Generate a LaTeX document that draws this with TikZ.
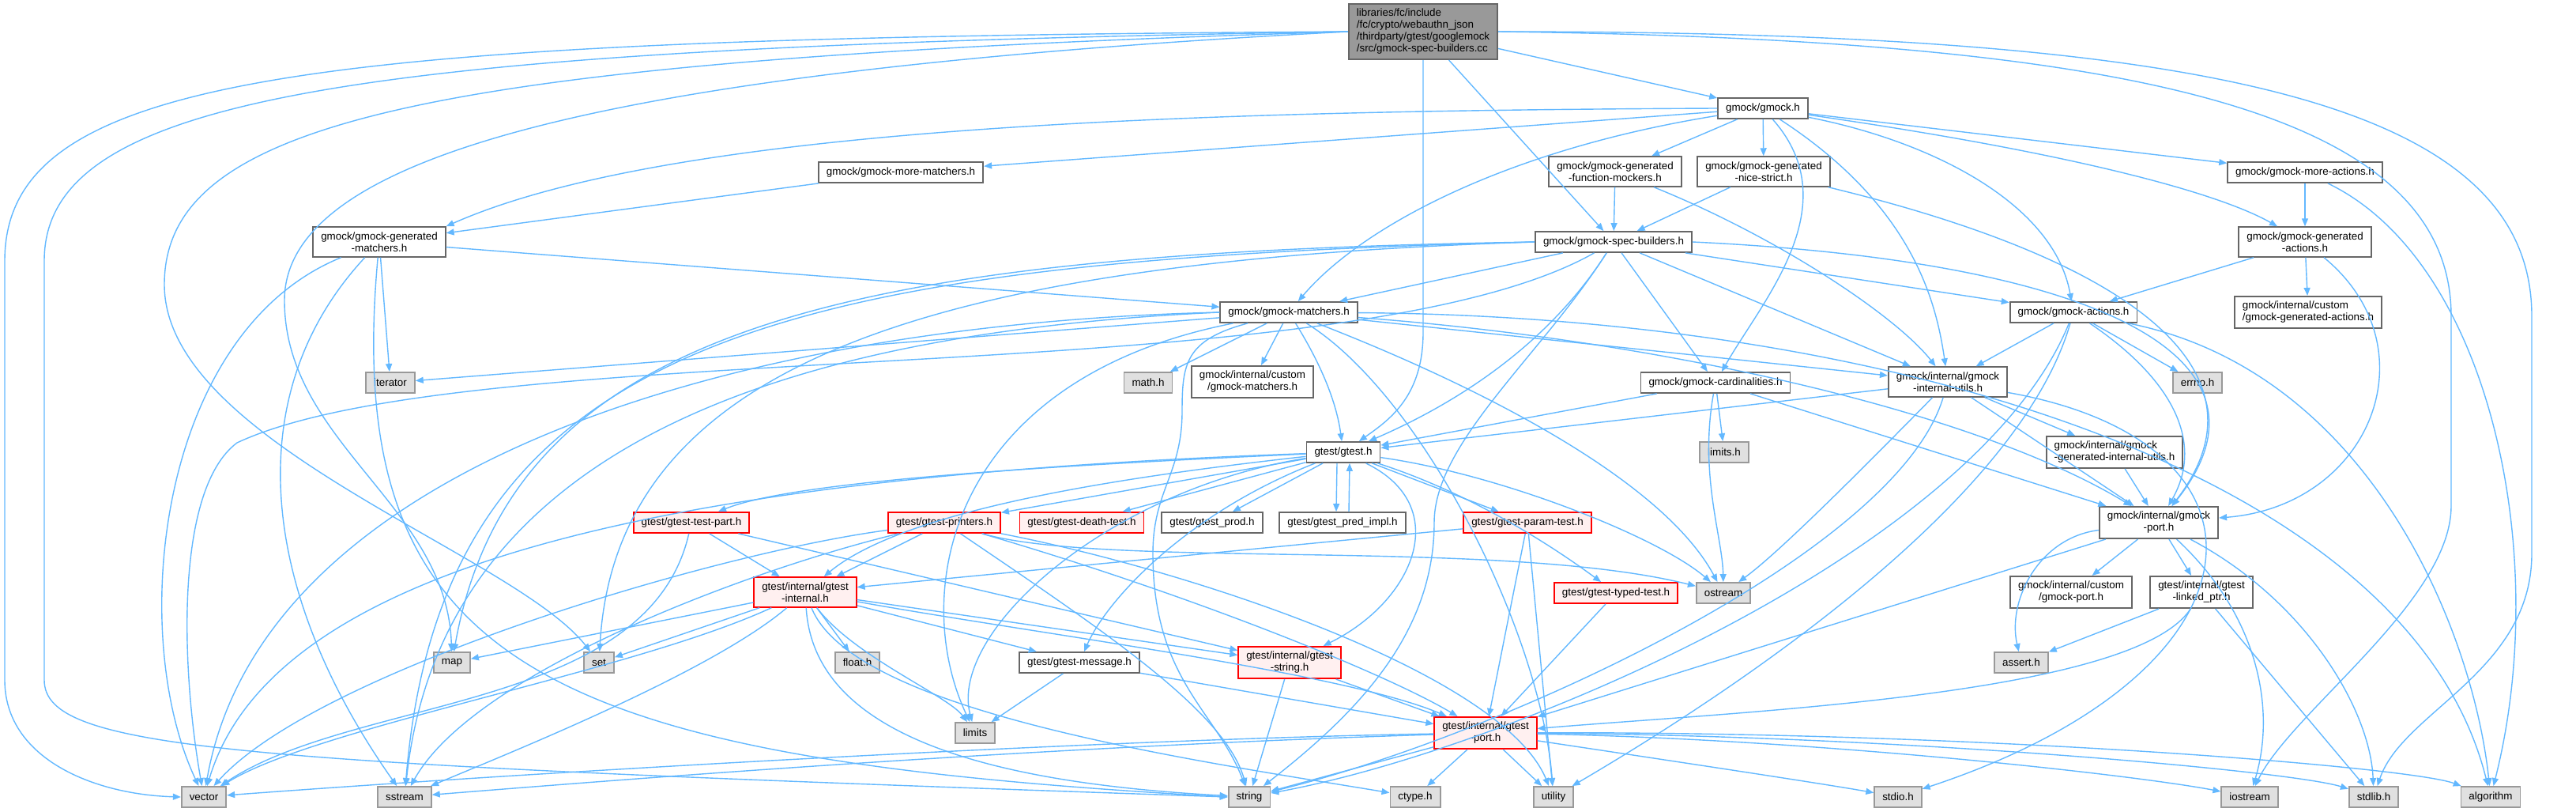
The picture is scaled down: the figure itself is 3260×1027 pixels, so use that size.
\documentclass[tikz,border=0pt]{standalone}
\usepackage{fontspec}
\setmainfont{Liberation Sans}
\usepackage{tikz}
\usetikzlibrary{arrows.meta}

\definecolor{edgeblue}{HTML}{63B8FF}
\definecolor{boxgray}{HTML}{666666}
\definecolor{sysgray}{HTML}{999999}
\definecolor{sysfill}{HTML}{E0E0E0}
\definecolor{redfill}{HTML}{FFF0F0}
\definecolor{rootfill}{HTML}{999999}

\newcommand{\gfont}{\fontsize{6.7}{7.5}\selectfont}

\tikzset{
    file/.style={draw=boxgray, fill=white, line width=0.9pt, inner xsep=5pt, inner ysep=3.2pt,
        minimum height=13pt, font=\gfont, align=center},
    sysfile/.style={file, draw=sysgray, fill=sysfill},
    redfile/.style={file, draw=red, fill=redfill},
    rootfile/.style={file, fill=rootfill, align=left},
    inc/.style={draw=edgeblue, line width=0.7pt, -{Triangle[length=5pt,width=4pt]}}
}

\begin{document}
\begin{tikzpicture}[x=0.5pt,y=-0.5pt]
        \useasboundingbox (0,0) rectangle (3260,1027);

        \node[rootfile] (root) at (1801,40) {libraries/fc/include\\/fc/crypto/webauthn\_json\\/thirdparty/gtest/googlemock\\/src/gmock-spec-builders.cc};
        \node[file] (gmock) at (2231,137) {gmock/gmock.h};
        \node[file] (genmatch) at (480,306) {gmock/gmock-generated\\-matchers.h};
        \node[file] (morematch) at (1140,218) {gmock/gmock-more-matchers.h};
        \node[file] (funcmock) at (2044,217) {gmock/gmock-generated\\-function-mockers.h};
        \node[file] (nicestrict) at (2232,217) {gmock/gmock-generated\\-nice-strict.h};
        \node[file] (moreact) at (2917,218) {gmock/gmock-more-actions.h};
        \node[file] (specb) at (2042,306) {gmock/gmock-spec-builders.h};
        \node[file] (genact) at (2917,306) {gmock/gmock-generated\\-actions.h};
        \node[sysfile] (iterator) at (494,484) {iterator};
        \node[file] (matchers) at (1631,395) {gmock/gmock-matchers.h};
        \node[sysfile] (mathh) at (1453,484) {math.h};
        \node[file] (custmatch) at (1585,483) {gmock/internal/custom\\/gmock-matchers.h};
        \node[file] (card) at (2171,484) {gmock/gmock-cardinalities.h};
        \node[file] (actions) at (2624,395) {gmock/gmock-actions.h};
        \node[file, align=left] (custgenact) at (2921,395) {gmock/internal/custom\\/gmock-generated-actions.h};
        \node[file] (iutils) at (2465,483) {gmock/internal/gmock\\-internal-utils.h};
        \node[sysfile] (errnoh) at (2781,484) {errno.h};
        \node[file] (gtest) at (1700,572) {gtest/gtest.h};
        \node[sysfile] (limitsh) at (2182,572) {limits.h};
        \node[file, align=left] (geniutils) at (2676,572) {gmock/internal/gmock\\-generated-internal-utils.h};
        \node[file] (gmockport) at (2732,661) {gmock/internal/gmock\\-port.h};
        \node[redfile] (testpart) at (875,661) {gtest/gtest-test-part.h};
        \node[redfile] (printers) at (1195,661) {gtest/gtest-printers.h};
        \node[redfile] (death) at (1369,661) {gtest/gtest-death-test.h};
        \node[file] (prod) at (1534,661) {gtest/gtest\_prod.h};
        \node[file] (predimpl) at (1699,661) {gtest/gtest\_pred\_impl.h};
        \node[redfile] (param) at (1933,661) {gtest/gtest-param-test.h};
        \node[redfile] (ginternal) at (1019,749) {gtest/internal/gtest\\-internal.h};
        \node[redfile] (typed) at (2045,750) {gtest/gtest-typed-test.h};
        \node[sysfile] (ostream) at (2181,750) {ostream};
        \node[file] (custport) at (2621,749) {gmock/internal/custom\\/gmock-port.h};
        \node[file] (linked) at (2786,749) {gtest/internal/gtest\\-linked\_ptr.h};
        \node[sysfile] (map) at (572,838) {map};
        \node[sysfile] (set) at (758,838) {set};
        \node[sysfile] (floath) at (1085,838) {float.h};
        \node[file] (message) at (1366,838) {gtest/gtest-message.h};
        \node[redfile] (gstring) at (1632,838) {gtest/internal/gtest\\-string.h};
        \node[sysfile] (asserth) at (2558,838) {assert.h};
        \node[sysfile] (limits) at (1234,927) {limits};
        \node[redfile] (gport) at (1880,927) {gtest/internal/gtest\\-port.h};
        \node[sysfile] (vector) at (258,1008) {vector};
        \node[sysfile] (sstream) at (512,1008) {sstream};
        \node[sysfile] (string) at (1581,1008) {string};
        \node[sysfile] (ctypeh) at (1791,1008) {ctype.h};
        \node[sysfile] (utility) at (1966,1008) {utility};
        \node[sysfile] (stdioh) at (2402,1008) {stdio.h};
        \node[sysfile] (iostream) at (2847,1008) {iostream};
        \node[sysfile] (stdlibh) at (3004,1008) {stdlib.h};
        \node[sysfile] (algorithm) at (3152,1008) {algorithm};

        \draw[inc] (root) -- (specb);
        \draw[inc] (root) -- (gmock);
        \draw[inc] (root.south) -- (1801,420) .. controls (1801,500) and (1760,530) .. (gtest);
        \draw[inc] (root.west) .. controls (400,48) and (6,90) .. (6,330) -- (6,860) .. controls (6,960) and (120,1005) .. (vector.west);
        \draw[inc] (root.west) .. controls (450,60) and (56,120) .. (56,330) -- (56,860) .. controls (56,950) and (300,965) .. (string.west);
        \draw[inc] (root.west) .. controls (550,75) and (208,150) .. (208,360) .. controls (208,560) and (650,700) .. (set);
        \draw[inc] (root.west) .. controls (750,90) and (360,200) .. (360,380) .. controls (360,560) and (566,640) .. (map);
        \draw[inc] (root.east) .. controls (2700,50) and (3102,140) .. (3102,400) -- (3102,640) .. controls (3102,760) and (2900,900) .. (iostream);
        \draw[inc] (root.east) .. controls (2800,40) and (3204,130) .. (3204,400) -- (3204,700) .. controls (3204,850) and (3040,900) .. (stdlibh);

        \draw[inc] (gmock.west) .. controls (1500,140) and (850,160) .. (genmatch.north east);
        \draw[inc] (gmock) -- (morematch);
        \draw[inc] (gmock) .. controls (1900,190) and (1720,290) .. (matchers);
        \draw[inc] (gmock) -- (funcmock);
        \draw[inc] (gmock) -- (nicestrict);
        \draw[inc] (gmock) .. controls (2340,260) and (2230,380) .. (card);
        \draw[inc] (gmock) .. controls (2420,260) and (2450,380) .. (iutils);
        \draw[inc] (gmock) .. controls (2450,180) and (2600,260) .. (actions);
        \draw[inc] (gmock) .. controls (2600,190) and (2800,240) .. (genact);
        \draw[inc] (gmock) -- (moreact);

        \draw[inc] (morematch) -- (genmatch);
        \draw[inc] (funcmock) -- (specb);
        \draw[inc] (funcmock) .. controls (2250,300) and (2400,400) .. (iutils);
        \draw[inc] (nicestrict) -- (specb);
        \draw[inc] (nicestrict) .. controls (2700,330) and (2880,470) .. (gmockport);
        \draw[inc] (moreact) -- (genact);
        \draw[inc] (moreact) .. controls (3150,330) and (3230,700) .. (algorithm);
        \draw[inc] (genact) -- (actions);
        \draw[inc] (genact) -- (custgenact);
        \draw[inc] (genact) .. controls (3080,440) and (3000,640) .. (gmockport);

        \draw[inc] (genmatch) -- (iterator);
        \draw[inc] (genmatch) -- (matchers);
        \draw[inc] (genmatch) .. controls (200,420) and (160,800) .. (vector);
        \draw[inc] (genmatch) .. controls (300,500) and (330,750) .. (sstream);
        \draw[inc] (genmatch) .. controls (430,850) and (700,960) .. (string.west);

        \draw[inc] (specb) -- (matchers);
        \draw[inc] (specb) .. controls (1950,450) and (1820,520) .. (gtest);
        \draw[inc] (specb) -- (card);
        \draw[inc] (specb) -- (actions);
        \draw[inc] (specb) -- (iutils);
        \draw[inc] (specb.east) .. controls (2650,330) and (2900,450) .. (gmockport);
        \draw[inc] (specb) .. controls (1700,500) and (600,420) .. (300,560) .. controls (220,620) and (230,850) .. (vector);
        \draw[inc] (specb.west) .. controls (1000,330) and (560,420) .. (sstream);
        \draw[inc] (specb.west) .. controls (1100,320) and (650,400) .. (map);
        \draw[inc] (specb.west) .. controls (1200,330) and (780,450) .. (set);
        \draw[inc] (specb) .. controls (1950,450) and (1815,560) .. (1815,661) .. controls (1815,800) and (1720,900) .. (string);

        \draw[inc] (matchers) -- (mathh);
        \draw[inc] (matchers) -- (custmatch);
        \draw[inc] (matchers) .. controls (1665,450) and (1690,500) .. (gtest);
        \draw[inc] (matchers) -- (iterator);
        \draw[inc] (matchers.west) .. controls (900,410) and (330,600) .. (vector);
        \draw[inc] (matchers.west) .. controls (1000,420) and (560,560) .. (sstream);
        \draw[inc] (matchers) .. controls (1200,480) and (1150,750) .. (limits);
        \draw[inc] (matchers) .. controls (1500,430) and (1496,460) .. (1496,520) .. controls (1496,600) and (1459,620) .. (1459,700) .. controls (1459,860) and (1540,900) .. (string);
        \draw[inc] (matchers) .. controls (1850,480) and (2100,600) .. (ostream);
        \draw[inc] (matchers) .. controls (1800,500) and (1950,800) .. (utility);
        \draw[inc] (matchers) -- (iutils);
        \draw[inc] (matchers) .. controls (2100,430) and (2500,520) .. (gmockport);
        \draw[inc] (matchers) .. controls (2400,400) and (3050,600) .. (algorithm);

        \draw[inc] (card) -- (gtest);
        \draw[inc] (card) -- (limitsh);
        \draw[inc] (card) .. controls (2150,600) and (2180,680) .. (ostream);
        \draw[inc] (card) -- (gmockport);

        \draw[inc] (actions) -- (iutils);
        \draw[inc] (actions) -- (errnoh);
        \draw[inc] (actions) .. controls (2750,480) and (2790,560) .. (gmockport);
        \draw[inc] (actions) .. controls (2500,700) and (1900,950) .. (string);
        \draw[inc] (actions) .. controls (2550,650) and (2150,900) .. (utility);
        \draw[inc] (actions) .. controls (3000,470) and (3130,800) .. (algorithm);

        \draw[inc] (iutils) -- (gtest);
        \draw[inc] (iutils) -- (geniutils);
        \draw[inc] (iutils) -- (gmockport);
        \draw[inc] (iutils) .. controls (2350,600) and (2250,700) .. (ostream);
        \draw[inc] (iutils) .. controls (2400,700) and (1900,930) .. (string);
        \draw[inc] (iutils) .. controls (2900,560) and (2880,850) .. (stdioh);
        \draw[inc] (geniutils) -- (gmockport);

        \draw[inc] (gtest) -- (printers);
        \draw[inc] (gtest) -- (death);
        \draw[inc] (gtest) -- (prod);
        \draw[inc] ([xshift=-4pt]gtest.south) -- ([xshift=-4pt]predimpl.north);
        \draw[inc] ([xshift=4pt]predimpl.north) -- ([xshift=4pt]gtest.south);
        \draw[inc] (gtest) -- (param);
        \draw[inc] (gtest) .. controls (1850,620) and (1950,680) .. (typed);
        \draw[inc] (gtest) .. controls (1900,600) and (2100,680) .. (ostream);
        \draw[inc] (gtest) .. controls (1840,640) and (1790,760) .. (gstring);
        \draw[inc] (gtest) .. controls (1450,600) and (1150,640) .. (ginternal);
        \draw[inc] (gtest) .. controls (1300,590) and (1000,610) .. (testpart);
        \draw[inc] (gtest) .. controls (1500,650) and (1400,760) .. (message);
        \draw[inc] (gtest) .. controls (1400,620) and (1200,800) .. (limits);
        \draw[inc] (gtest) .. controls (900,600) and (350,700) .. (vector);

        \draw[inc] (testpart) -- (ginternal);
        \draw[inc] (testpart) -- (gstring);
        \draw[inc] (testpart) .. controls (820,900) and (450,880) .. (vector);

        \draw[inc] (printers) -- (ginternal);
        \draw[inc] (printers) .. controls (1400,800) and (1550,900) .. (string);
        \draw[inc] (printers) .. controls (1500,750) and (1750,850) .. (gport);
        \draw[inc] (printers) .. controls (1400,720) and (1900,680) .. (ostream);
        \draw[inc] (printers) .. controls (1500,720) and (1900,850) .. (utility);
        \draw[inc] (printers) .. controls (900,700) and (400,850) .. (vector);
        \draw[inc] (printers) .. controls (950,720) and (600,850) .. (sstream);

        \draw[inc] (param) -- (ginternal);
        \draw[inc] (param) -- (gport);
        \draw[inc] (param) -- (utility);
        \draw[inc] (typed) -- (gport);

        \draw[inc] (ginternal) -- (map);
        \draw[inc] (ginternal) -- (set);
        \draw[inc] (ginternal) -- (floath);
        \draw[inc] (ginternal) -- (message);
        \draw[inc] (ginternal) -- (gstring);
        \draw[inc] (ginternal) .. controls (1080,830) and (1200,880) .. (limits);
        \draw[inc] (ginternal) .. controls (1300,800) and (1700,850) .. (gport);
        \draw[inc] (ginternal) .. controls (800,850) and (400,920) .. (vector);
        \draw[inc] (ginternal) .. controls (900,850) and (650,950) .. (sstream);
        \draw[inc] (ginternal) .. controls (1030,930) and (1250,990) .. (string);
        \draw[inc] (ginternal) .. controls (1080,900) and (1500,960) .. (ctypeh);

        \draw[inc] (message) -- (limits);
        \draw[inc] (message) -- (gport);
        \draw[inc] (gstring) -- (string);
        \draw[inc] (gstring) -- (gport);

        \draw[inc] (gmockport) .. controls (2580,680) and (2540,760) .. (asserth);
        \draw[inc] (gmockport) -- (custport);
        \draw[inc] (gmockport) -- (linked);
        \draw[inc] (gmockport) -- (gport);
        \draw[inc] (gmockport) .. controls (2860,780) and (2880,900) .. (iostream);
        \draw[inc] (gmockport) .. controls (2920,760) and (3000,900) .. (stdlibh);

        \draw[inc] (linked) -- (asserth);
        \draw[inc] (linked) -- (stdlibh);
        \draw[inc] (linked) .. controls (2700,880) and (2200,900) .. (gport);

        \draw[inc] (gport) -- (ctypeh);
        \draw[inc] (gport) -- (utility);
        \draw[inc] (gport) -- (string);
        \draw[inc] (gport) .. controls (1400,935) and (700,975) .. (vector);
        \draw[inc] (gport) .. controls (1300,945) and (800,985) .. (sstream);
        \draw[inc] (gport) .. controls (2100,960) and (2300,990) .. (stdioh);
        \draw[inc] (gport) .. controls (2300,935) and (2700,980) .. (iostream);
        \draw[inc] (gport) .. controls (2400,930) and (2900,975) .. (stdlibh);
        \draw[inc] (gport) .. controls (2500,925) and (3050,970) .. (algorithm);
\end{tikzpicture}
\end{document}
